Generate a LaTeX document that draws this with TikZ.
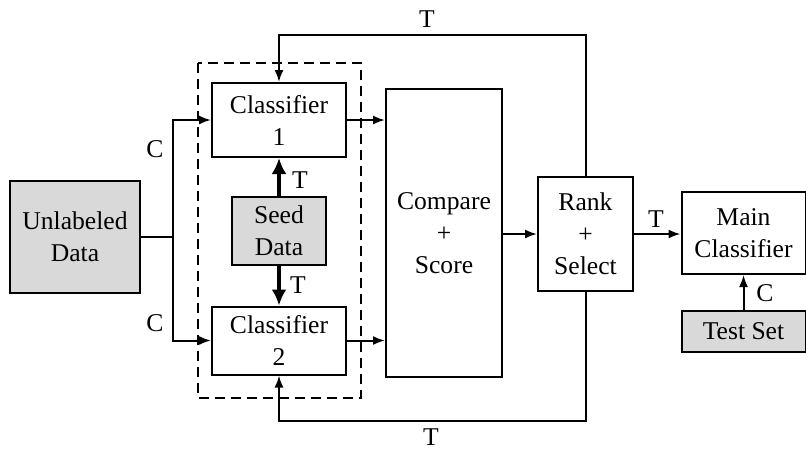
\documentclass[tikz,border=0pt]{standalone}
\usepackage{fontspec}
\setmainfont{Liberation Serif}
\usepackage{tikz}
\usetikzlibrary{arrows,arrows.meta,calc}
\tikzset{
	block/.style={draw, line width=1pt, inner sep=0pt, align=center,
			font=\fontsize{12.8}{16}\selectfont},
	datablock/.style={block, fill=gray!30},
	flow/.style={-{Latex[length=6pt,width=4.5pt]}, line width=1pt},
	seedflow/.style={-{Latex[length=8pt,width=7.5pt]}, line width=1.6pt},
	tag/.style={font=\fontsize{12.8}{16}\selectfont}
}

\begin{document}
\begin{tikzpicture}[x=0.5pt,y=-0.5pt]
		\useasboundingbox (0,0) rectangle (806,450);
		\node[datablock, minimum width=65pt, minimum height=56pt] (unl) at (75,237) {Unlabeled\\Data};
		\node[block, minimum width=67pt, minimum height=37pt] (cls1) at (279,120) {Classifier\\1};
		\node[block, minimum width=67pt, minimum height=34pt] (cls2) at (279,340.5) {Classifier\\2};
		\node[datablock, minimum width=47pt, minimum height=34pt] (seed) at (279,231) {Seed\\Data};
		\node[block, minimum width=58pt, minimum height=144pt] (cmp) at (444,233) {Compare\\+\\Score};
		\node[block, minimum width=47.5pt, minimum height=57pt] (rank) at (585.5,234) {Rank\\+\\Select};
		\node[block, minimum width=62pt, minimum height=41pt] (main) at (743.5,233) {Main\\Classifier};
		\node[datablock, minimum width=62pt, minimum height=20.5pt] (test) at (743.5,331) {Test Set};
		\draw[dashed, dash pattern=on 5pt off 3pt, line width=0.8pt] (198,63) rectangle (361,398);
		
		\coordinate (jn) at (173,237);
		\coordinate (loopT) at (0,35);
		\coordinate (loopB) at (0,421);
		\draw[line width=1pt] (unl.east) -- (jn);
		\draw[flow] (jn) |- (cls1.west);
		\draw[flow] (jn) |- (cls2.west);
		\node[tag] (c1) at (155,149) {C};
		\node[tag] (c2) at (155,323) {C};
		
		\draw[seedflow] (seed.north) -- (cls1.south);
		\draw[seedflow] (seed.south) -- (cls2.south |- cls2.north);
		\node[tag] (t1) at (300,180) {T};
		\node[tag] (t2) at (298,285) {T};
		
		\draw[flow] (cls1.east) -- (cls1.east -| cmp.west);
		\draw[flow] (cls2.east) -- (cls2.east -| cmp.west);
		\draw[flow] (cmp.east |- rank.west) -- (rank.west);
		
		\draw[flow] (rank.north) |- (cls1.north |- loopT) -- (cls1.north);
		\draw[flow] (rank.south) |- (cls2.south |- loopB) -- (cls2.south);
		\node[tag] (t3) at (427,19) {T};
		\node[tag] (t4) at (431,437) {T};
		
		\draw[flow] (rank.east) -- (rank.east -| main.west);
		\node[tag] (t5) at (656,219) {T};
		\draw[flow] (test.north) -- (main.south);
		\node[tag] (c3) at (765,293) {C};
	\end{tikzpicture}
\end{document}
